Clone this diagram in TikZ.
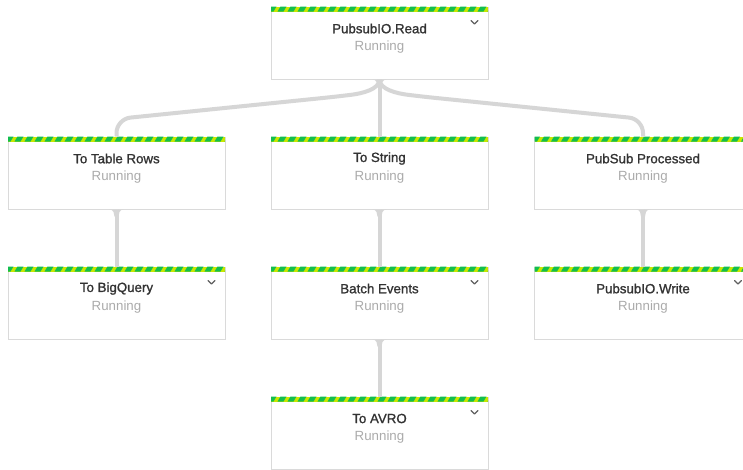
\documentclass[tikz,border=0pt]{standalone}
\usepackage{fontspec}
\setmainfont{Liberation Sans}
\newfontfamily\titlefont[FakeBold=1.2]{Liberation Sans}
\definecolor{boxline}{HTML}{DADADA}
\definecolor{conncol}{HTML}{D6D6D6}
\definecolor{stgreen}{HTML}{12BE4E}
\definecolor{stlime}{HTML}{C8E600}
\definecolor{titlecol}{HTML}{333333}
\definecolor{statcol}{HTML}{ABABAB}
\definecolor{chevcol}{HTML}{5F5F5F}
\tikzset{
  stepbox/.style={draw=boxline, line width=1pt, fill=white, minimum width=217pt, minimum height=72pt, inner sep=0pt, anchor=north west},
  titletext/.style={text=titlecol, font=\titlefont\fontsize{13.3}{15}\selectfont, inner sep=0pt},
  stattext/.style={text=statcol, font=\fontsize{13.3}{15}\selectfont, inner sep=0pt},
  conn/.style={draw=conncol, line width=4pt},
  chev/.style={draw=chevcol, line width=1.3pt, line cap=round, line join=round},
}
\newcommand{\stripebar}[1]{%
  \begin{scope}
    \clip ([xshift=0.5pt]#1.north west) rectangle ([xshift=-0.5pt,yshift=-5pt]#1.north east);
    \fill[stlime] ([xshift=0.5pt]#1.north west) rectangle ([xshift=-0.5pt,yshift=-5pt]#1.north east);
    \foreach \k in {-1,...,22}{
      \fill[stgreen] ([xshift=\k*10pt]#1.north west) -- ++(6pt,0) -- ++(-3pt,-5pt) -- ++(-6pt,0) -- cycle;
    }
  \end{scope}}
\newcommand{\chevmark}[1]{%
  \draw[chev] ([xshift=-17.5pt,yshift=-14pt]#1.north east) -- ++(3.5pt,-3.5pt) -- ++(3.5pt,3.5pt);}
\newcommand{\knob}[1]{%
  \fill[conncol] ([xshift=-7pt]#1.south) .. controls +(4pt,0) and +(0,3pt) .. ++(5pt,-7pt) -- ++(4pt,0) .. controls +(0,3pt) and +(-4pt,0) .. ++(5pt,7pt) -- cycle;}
\newcommand{\stepnode}[5]{%
  % #1 name, #2 x, #3 y, #4 title, #5 chevron yes/no
  \node[stepbox] (#1) at (#2,#3) {};
  \stripebar{#1}
  \node[titletext] (#1-t) at ([yshift=-22pt]#1.north) {#4};
  \node[stattext] (#1-s) at ([yshift=-40.5pt]#1.north) {Running};
  \ifx#5y\chevmark{#1}\fi}
\begin{document}
\begin{tikzpicture}[x=1pt,y=-1pt]
\useasboundingbox[fill=white] (0,0) rectangle (743,469);
% boxes
\stepnode{read}{270.5}{6.5}{PubsubIO.Read}{y}
\stepnode{rows}{7.5}{136.5}{To Table Rows}{n}
\stepnode{string}{270.5}{136.5}{To String}{n}
\stepnode{proc}{534}{136.5}{PubSub Processed}{n}
\stepnode{bq}{7.5}{266.5}{To BigQuery}{y}
\stepnode{batch}{270.5}{266.5}{Batch Events}{y}
\stepnode{write}{534}{266.5}{PubsubIO.Write}{y}
\stepnode{avro}{270.5}{396.5}{To AVRO}{y}
% connectors
\draw[conn] (read.south) -- (string.north);
\draw[conn, rounded corners=14pt] (read.south) .. controls +(0,10) and +(24,-3) .. ++(-42,17) -- (rows.north |- 0,119) -- (rows.north);
\draw[conn, rounded corners=14pt] (read.south) .. controls +(0,10) and +(-24,-3) .. ++(42,17) -- (proc.north |- 0,119) -- (proc.north);
\draw[conn] (rows.south) -- (bq.north);
\draw[conn] (string.south) -- (batch.north);
\draw[conn] (proc.south) -- (write.north);
\draw[conn] (batch.south) -- (avro.north);
\knob{read}\knob{rows}\knob{string}\knob{proc}\knob{batch}
\end{tikzpicture}
\end{document}
